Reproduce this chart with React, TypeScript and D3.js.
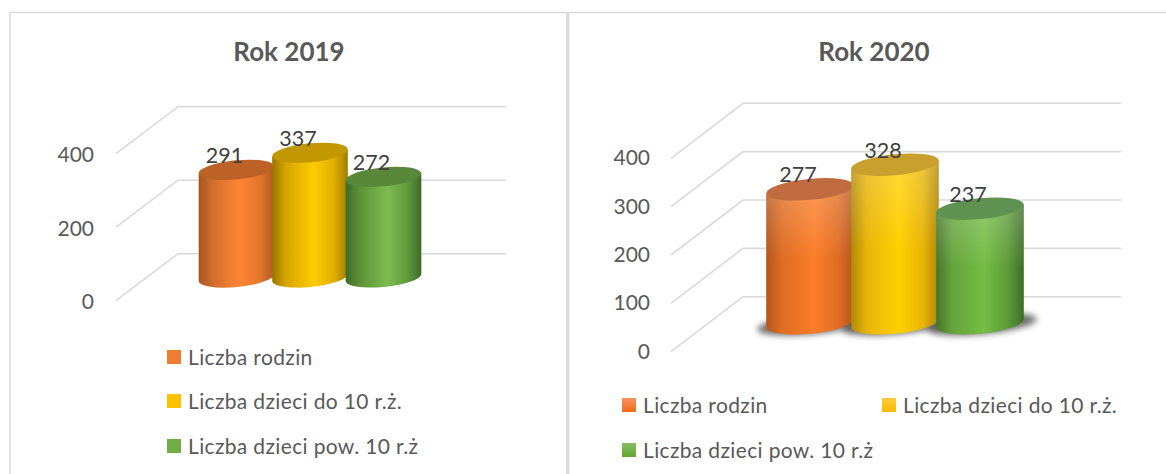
import React from "react";
import * as d3 from "d3";

const categories = ["Liczba rodzin", "Liczba dzieci do 10 r.ż.", "Liczba dzieci pow. 10 r.ż"];
const values2019 = [291, 337, 272];
const values2020 = [277, 328, 237];
const ticks2019 = [0, 200, 400];
const ticks2020 = [0, 100, 200, 300, 400];
const hues = ["orange", "yellow", "green"];

const FONT = "Lato, 'Open Sans', sans-serif";
const TILT = -5.5 * Math.PI / 180;
const DEG = (TILT * 180) / Math.PI;

const sideStops: Record<string, string[]> = {
  orange: ["#A65620", "#D06E2C", "#FF8534", "#E0742A", "#AE5B20"],
  yellow: ["#977400", "#D6A500", "#FFCB00", "#E0AE00", "#A07C00"],
  green: ["#3E6A26", "#5C9138", "#7CBB4E", "#609A3C", "#3E6B27"],
};
const sideStops2: Record<string, string[]> = {
  orange: ["#B2561E", "#DE6C22", "#FB7D28", "#E06C22", "#B2561E"],
  yellow: ["#B08A08", "#E8B408", "#FFD000", "#E8B408", "#AE8806"],
  green: ["#44752C", "#64A23A", "#74BC44", "#5C9A36", "#3E6E26"],
};
const topCols: Record<string, string> = { orange: "#BC6226", yellow: "#C29700", green: "#5A883A" };
const topCols2: Record<string, string> = { orange: "#C06C40", yellow: "#C9A02E", green: "#5F9150" };
const legendSolid: Record<string, string> = { orange: "#ED7D31", yellow: "#FFC000", green: "#70AD47" };
const legendTop: Record<string, string> = { orange: "#F69460", yellow: "#FFCB3D", green: "#88BD66" };
const legendBottom: Record<string, string> = { orange: "#F06C16", yellow: "#F5BA00", green: "#62A62F" };
const stopOffsets = [0, 0.18, 0.55, 0.82, 1];

function cylinderPath(cx: number, top: number, bottom: number, rx: number, ry: number) {
  const dx = rx * Math.cos(TILT), dy = rx * Math.sin(TILT);
  return `M${cx - dx},${bottom - dy} L${cx - dx},${top - dy} L${cx + dx},${top + dy} L${cx + dx},${bottom + dy} A${rx},${ry} ${DEG} 0 1 ${cx - dx},${bottom - dy} Z`;
}

type CP = {
  id: string; title: string; titleX: number; values: number[]; ticks: number[];
  backTop: number; backBottom: number; backLeft: number; backRight: number; depthX: number; depthY: number;
  base: number; barPx: number; cx: [number, number]; rx: number; ry: number; labelX: number; labelDy: number; glossy: boolean;
};

function Chart({ c }: { c: CP }) {
  const yGrid = d3.scaleLinear().domain([0, 400]).range([c.backBottom, c.backTop]);
  const yBar = d3.scaleLinear().domain([0, 400]).range([c.base, c.base - c.barPx]);
  const x = d3.scalePoint<string>().domain(categories).range(c.cx);
  return (
    <g>
      <text x={c.titleX} y={60.5} textAnchor="middle" fontFamily={FONT} fontWeight={700} fontSize={26} fill="#595959">{c.title}</text>
      {c.ticks.map((t) => {
        const y = yGrid(t);
        return (
          <g key={t}>
            <path d={`M${c.backRight},${y} L${c.backLeft},${y} L${c.backLeft - c.depthX},${y + c.depthY}`} fill="none" stroke="#D9D9D9" strokeWidth={1.6} />
            <text x={c.labelX} y={y + c.depthY + c.labelDy} dominantBaseline="central" textAnchor="end" fontFamily={FONT} fontSize={21} fill="#595959">{t}</text>
          </g>
        );
      })}
      {c.glossy && categories.map((k) => {
        const cx = x(k)! + 2;
        return (
          <ellipse key={k} cx={cx} cy={c.base + 1} rx={c.rx + 11} ry={c.ry * 0.95} transform={`rotate(${DEG} ${cx} ${c.base + 1})`} fill="#333" opacity={0.7} filter={`url(#blur-${c.id})`} />
        );
      })}
      {categories.map((k, i) => {
        const cx = x(k)!, top = yBar(c.values[i]), hue = hues[i];
        return (
          <g key={k}>
            <path d={cylinderPath(cx, top, c.base, c.rx, c.ry)} fill={`url(#side-${c.id}-${hue})`} />
            {c.glossy && <path d={cylinderPath(cx, top, c.base, c.rx, c.ry)} fill={`url(#gloss-${c.id})`} />}
            <ellipse cx={cx} cy={top} rx={c.rx} ry={c.ry} transform={`rotate(${DEG} ${cx} ${top})`} fill={(c.glossy ? topCols2 : topCols)[hue]} />
          </g>
        );
      })}
      {categories.map((k, i) => (
        <text key={k} x={x(k)! - 12} y={yBar(c.values[i]) - 15} dominantBaseline="central" textAnchor="middle" fontFamily={FONT} fontSize={21.5} fill="#404040">{c.values[i]}</text>
      ))}
    </g>
  );
}

function LegendItem({ x, y, i, gradient }: { x: number; y: number; i: number; gradient: boolean }) {
  const hue = hues[i];
  return (
    <g>
      <rect x={x} y={y - 7} width={14} height={14} fill={gradient ? `url(#lg-${hue})` : legendSolid[hue]} />
      <text x={x + 21} y={y - 1} dominantBaseline="central" fontFamily={FONT} fontSize={21} letterSpacing={0.35} fill="#595959">{categories[i]}</text>
    </g>
  );
}

const chartA: CP = {
  id: "a", title: "Rok 2019", titleX: 289, values: values2019, ticks: ticks2019,
  backTop: 106.7, backBottom: 253.7, backLeft: 178, backRight: 506, depthX: 62, depthY: 47,
  base: 277.5, barPx: 148, cx: [236.5, 383.5], rx: 38, ry: 9.5, labelX: 94, labelDy: 0, glossy: false,
};
const chartB: CP = {
  id: "b", title: "Rok 2020", titleX: 874, values: values2020, ticks: ticks2020,
  backTop: 103.3, backBottom: 296.7, backLeft: 743, backRight: 1121, depthX: 72, depthY: 55,
  base: 323.2, barPx: 193.3, cx: [810, 980], rx: 44, ry: 10.5, labelX: 650, labelDy: -1.5, glossy: true,
};

export default function App() {
  return (
    <svg width={1166} height={474} viewBox="0 0 1166 474" style={{ position: "absolute", left: 0, top: 0, background: "#fff" }}>
      <defs>
        {hues.map((h) => (
          <React.Fragment key={h}>
            <linearGradient id={`side-a-${h}`} x1="0" x2="1" y1="0" y2="0">
              {sideStops[h].map((s, i) => <stop key={i} offset={stopOffsets[i]} stopColor={s} />)}
            </linearGradient>
            <linearGradient id={`side-b-${h}`} x1="0" x2="1" y1="0" y2="0">
              {sideStops2[h].map((s, i) => <stop key={i} offset={stopOffsets[i]} stopColor={s} />)}
            </linearGradient>
            <linearGradient id={`lg-${h}`} x1="0" x2="0" y1="0" y2="1">
              <stop offset="0" stopColor={legendTop[h]} />
              <stop offset="1" stopColor={legendBottom[h]} />
            </linearGradient>
          </React.Fragment>
        ))}
        <linearGradient id="gloss-b" x1="0" x2="0" y1="0" y2="1">
          <stop offset="0" stopColor="#fff" stopOpacity={0.22} />
          <stop offset="0.5" stopColor="#fff" stopOpacity={0} />
          <stop offset="1" stopColor="#000" stopOpacity={0} />
        </linearGradient>
        <filter id="blur-b" x="-30%" y="-100%" width="160%" height="300%">
          <feGaussianBlur stdDeviation="3" />
        </filter>
      </defs>
      <rect x={0} y={0} width={1166} height={474} fill="#fff" />
      <path d="M10,474 L10,12.5 L1166,12.5" fill="none" stroke="#D9D9D9" strokeWidth={1.5} />
      <rect x={566} y={12} width={3.5} height={462} fill="#DCDCDC" />
      <Chart c={chartA} />
      <Chart c={chartB} />
      <LegendItem x={167} y={357} i={0} gradient={false} />
      <LegendItem x={167} y={401} i={1} gradient={false} />
      <LegendItem x={167} y={446} i={2} gradient={false} />
      <LegendItem x={622} y={405} i={0} gradient={true} />
      <LegendItem x={882} y={405} i={1} gradient={true} />
      <LegendItem x={622} y={450} i={2} gradient={true} />
    </svg>
  );
}
